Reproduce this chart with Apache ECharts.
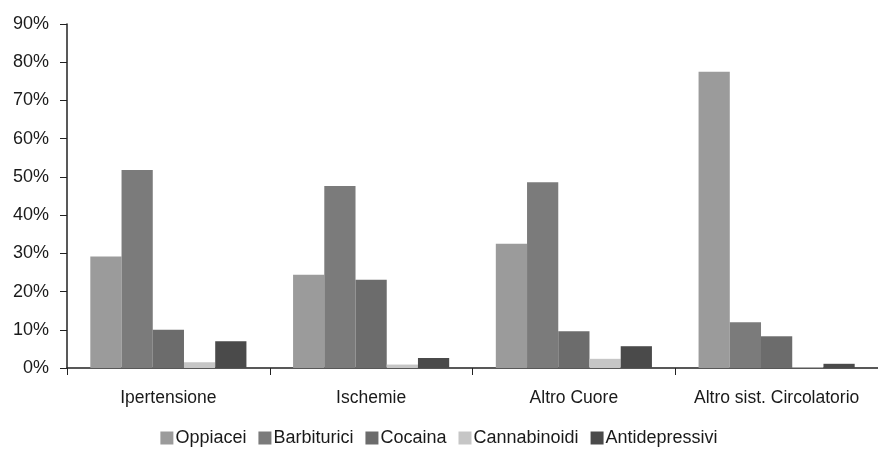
<!DOCTYPE html>
<html>
<head>
<meta charset="utf-8">
<script src="https://cdn.jsdelivr.net/npm/echarts@6/dist/echarts.min.js"></script>
<style>html,body{margin:0;padding:0;background:#fff}#c{width:878px;height:454px}</style>
</head>
<body>
<div id="c"></div>
<script>
const categories = ['Ipertensione', 'Ischemie', 'Altro Cuore', 'Altro sist. Circolatorio'];
const seriesNames = ['Oppiacei', 'Barbiturici', 'Cocaina', 'Cannabinoidi', 'Antidepressivi'];
const oppiacei = [29.2, 24.4, 32.5, 77.5];
const barbiturici = [51.8, 47.6, 48.6, 12.0];
const cocaina = [10.0, 23.1, 9.6, 8.3];
const cannabinoidi = [1.5, 0.9, 2.4, 0.2];
const antidepressivi = [7.0, 2.6, 5.7, 1.1];
const yTicks = [0, 10, 20, 30, 40, 50, 60, 70, 80, 90];
const colors = ['#9b9b9b', '#7b7b7b', '#6c6c6c', '#c6c6c6', '#4a4a4a'];

const values = [oppiacei, barbiturici, cocaina, cannabinoidi, antidepressivi];
const chart = echarts.init(document.getElementById('c'));
chart.setOption({
  animation: false,
  color: colors,
  textStyle: { fontFamily: 'Liberation Sans, Arial, sans-serif' },
  grid: { left: 67, right: -2, top: 24, bottom: 86, containLabel: false },
  legend: {
    bottom: 2, left: 'center',
    itemWidth: 13, itemHeight: 13, itemGap: 12,
    icon: 'rect',
    textStyle: { fontSize: 18, color: '#1a1a1a', padding: [0, 0, 0, -3] },
    data: seriesNames
  },
  xAxis: {
    type: 'category', data: categories,
    axisLine: { lineStyle: { color: '#222', width: 1.5 } },
    axisTick: { show: true, length: 7, lineStyle: { color: '#222' } },
    axisLabel: { fontSize: 17.5, color: '#1a1a1a', margin: 21, interval: 0 }
  },
  yAxis: {
    type: 'value', min: 0, max: 90, interval: 10,
    splitLine: { show: false },
    axisLine: { show: true, lineStyle: { color: '#222', width: 1.5 } },
    axisTick: { show: true, length: 7, lineStyle: { color: '#222' } },
    axisLabel: { fontSize: 18, color: '#1a1a1a', margin: 18, formatter: v => (yTicks.includes(v) ? v + '%' : '') }
  },
  series: seriesNames.map((n, i) => ({
    name: n, type: 'bar', data: values[i],
    barGap: '0%', barCategoryGap: '23%',
    itemStyle: { color: colors[i] }
  }))
});
</script>
</body>
</html>
